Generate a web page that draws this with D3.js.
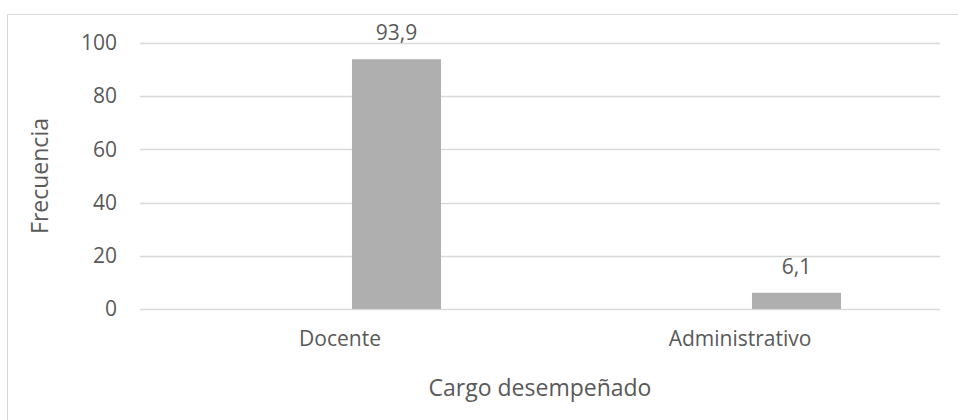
<!DOCTYPE html>
<html lang="es">
  <head>
    <meta charset="UTF-8" />
    <title>Cargo desempeñado</title>
    <script src="https://d3js.org/d3.v7.min.js"></script>
    <style>
      body { margin: 0; background: #fff; }
      text { font-family: "Open Sans", sans-serif; fill: #595959; }
    </style>
  </head>
  <body>
    <div id="chart"></div>
    <script>
      // datos
      var categorias = ["Docente", "Administrativo"];
      var valores = [93.9, 6.1];
      var series = ["vacia", "frecuencia"]; // excel pone la barra en la 2a posicion
      var ticksY = [0, 20, 40, 60, 80, 100];

      var W = 958, H = 420;
      var svg = d3.select("#chart").append("svg")
        .attr("width", W).attr("height", H);

      // marco del grafico
      svg.append("rect")
        .attr("x", 7.5).attr("y", 14.5)
        .attr("width", W).attr("height", H)
        .attr("fill", "none")
        .attr("stroke", "#d9d9d9")
        .attr("stroke-width", 1);

      var mLeft = 140, mRight = 940, mTop = 43, mBottom = 309;

      var x0 = d3.scaleBand().domain(categorias).range([mLeft, mRight]);
      var x1 = d3.scaleBand().domain(series)
        .range([0, x0.bandwidth()])
        .paddingInner(0.212)
        .paddingOuter(0.876);
      var y = d3.scaleLinear().domain([0, 100]).range([mBottom, mTop]);

      // lineas de cuadricula
      svg.append("g")
        .selectAll("line")
        .data(ticksY)
        .enter().append("line")
        .attr("x1", mLeft).attr("x2", mRight)
        .attr("y1", function(d) { return Math.round(y(d)) + 0.5; })
        .attr("y2", function(d) { return Math.round(y(d)) + 0.5; })
        .attr("stroke", "#d9d9d9")
        .attr("stroke-width", 1.3);

      // eje y
      var gY = svg.append("g")
        .attr("transform", "translate(" + (mLeft - 23) + ",0)")
        .call(d3.axisLeft(y).tickValues(ticksY).tickSize(0).tickPadding(0));
      gY.select(".domain").remove();
      gY.selectAll("text")
        .attr("font-size", 21)
        .attr("fill", "#595959")
        .attr("font-family", "'Open Sans', sans-serif");

      // barras
      svg.append("g")
        .selectAll("rect")
        .data(valores)
        .enter().append("rect")
        .attr("x", function(d, i) { return x0(categorias[i]) + x1("frecuencia"); })
        .attr("y", function(d) { return y(d); })
        .attr("width", x1.bandwidth())
        .attr("height", function(d) { return y(0) - y(d); })
        .attr("fill", "#afafaf");

      // etiquetas de valor
      svg.append("g")
        .selectAll("text")
        .data(valores)
        .enter().append("text")
        .attr("x", function(d, i) { return x0(categorias[i]) + x1("frecuencia") + x1.bandwidth() / 2; })
        .attr("y", function(d) { return y(d) - 19; })
        .attr("text-anchor", "middle")
        .attr("font-size", 21)
        .text(function(d) { return String(d).replace(".", ","); });

      // eje x
      var gX = svg.append("g")
        .attr("transform", "translate(0," + mBottom + ")")
        .call(d3.axisBottom(x0).tickSize(0).tickPadding(22));
      gX.select(".domain").remove();
      gX.selectAll("text")
        .attr("font-size", 21)
        .attr("fill", "#595959")
        .attr("font-family", "'Open Sans', sans-serif");

      // titulos de ejes
      svg.append("text")
        .attr("x", (mLeft + mRight) / 2)
        .attr("y", 396)
        .attr("text-anchor", "middle")
        .attr("font-size", 23)
        .text("Cargo desempeñado");

      svg.append("text")
        .attr("transform", "translate(48," + (mTop + mBottom) / 2 + ") rotate(-90)")
        .attr("text-anchor", "middle")
        .attr("font-size", 23)
        .text("Frecuencia");
    </script>
  </body>
</html>
